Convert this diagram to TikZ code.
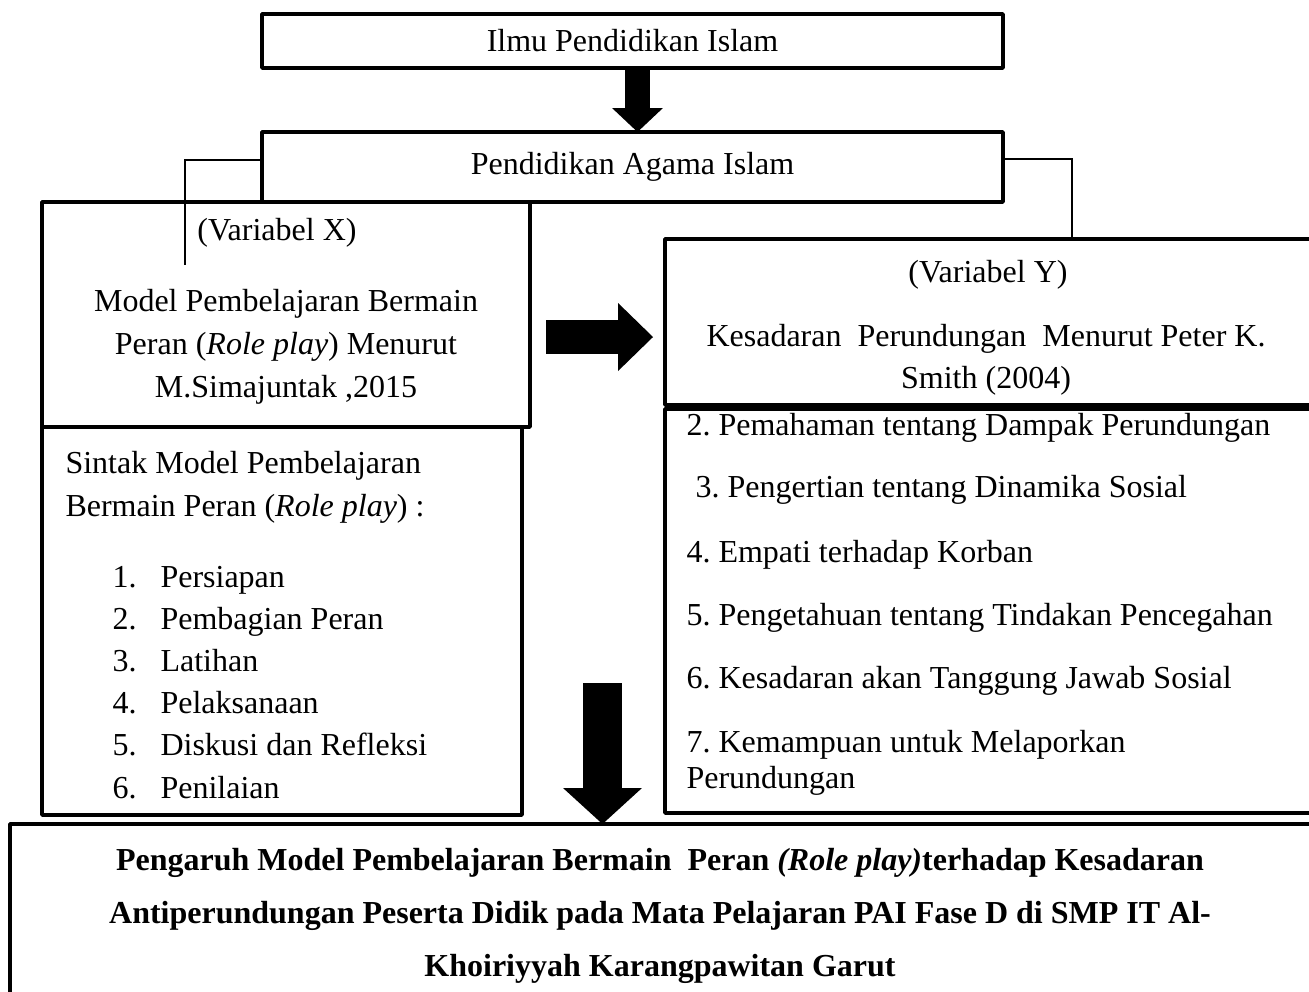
\documentclass[tikz,border=0pt]{standalone}
\usepackage{fontspec}
\setmainfont{Liberation Serif}
\usetikzlibrary{arrows.meta,positioning,calc}
\frenchspacing

\begin{document}
\begin{tikzpicture}[x=0.375pt, y=-0.375pt,
  font=\fontsize{12pt}{16pt}\selectfont,
  box/.style={draw, line width=1.4pt, inner sep=0pt, outer sep=0pt, anchor=north west, line join=round},
  txt/.style={inner sep=0pt},
  link/.style={line width=0.55pt},
  blockarrow/.style n args={3}{line width=#1, -{Triangle[width=#2, length=#3, line width=0pt]}}]

% parameters
\def\pxu{0.375pt}   % one pixel of the sketch

\useasboundingbox (0,0) rectangle (1309,991);
\clip (0,0) rectangle (1309,991);

% --- top boxes ---
\node[box, minimum width={741*\pxu}, minimum height={54*\pxu}] (ilmu) at (262,14) {Ilmu Pendidikan Islam};
\node[box, minimum width={741*\pxu}, minimum height={70*\pxu}] (pai) at (262,132) {Pendidikan Agama Islam};

% --- variabel X ---
\node[box, minimum width={488*\pxu}, minimum height={225*\pxu}] (xhead) at (42,202) {};
\node[box, minimum width={480*\pxu}, minimum height={388*\pxu}] (xbody) at (42,427) {};

% --- variabel Y ---
\node[box, minimum width={700*\pxu}, minimum height={166*\pxu}] (yhead) at (665,239) {};
\node[box, minimum width={700*\pxu}, minimum height={404*\pxu}] (ybody) at (665,409) {};

% --- result ---
\node[box, minimum width={1360*\pxu}, minimum height={220*\pxu}] (result) at (10,824) {};

% thin links from PAI
\coordinate (xlink) at (185,265);
\draw[link] ($(pai.north west)+(0,28)$) -| (xlink);
\draw[link] ($(pai.north east)+(0,27)$) -| ($(yhead.north west)+(407,0)$);

% block arrows
\draw[blockarrow={9.4pt}{19.1pt}{9pt}] ($(ilmu.south)+(5,0)$) -- ($(pai.north)+(5,0)$);
\draw[blockarrow={12.4pt}{25.5pt}{13.1pt}] ($(xhead.north east)+(16,135)$) -- ($(yhead.north west)+(-12,98)$);
\draw[blockarrow={14.6pt}{29.6pt}{13.5pt}] ($(xbody.north east)+(80.5,256)$) -- ($(result.north west)+(592.5,0)$);

% texts of X
\node[txt] (varx) at (277,233) {(Variabel X)};
\node[txt, align=center, font=\fontsize{12pt}{16.1pt}\selectfont] (xtitle) at (286,347)
  {Model Pembelajaran Bermain\\Peran (\textit{Role play}) Menurut\\M.Simajuntak ,2015};
\node[txt, anchor=west, align=left, font=\fontsize{12pt}{16.1pt}\selectfont] (sintak) at (65,487)
  {Sintak Model Pembelajaran\\Bermain Peran (\textit{Role play}) :};
\foreach \t [count=\i] in {Persiapan, Pembagian Peran, Latihan, Pelaksanaan, Diskusi dan Refleksi, Penilaian}{
  \node[txt, anchor=base west] (num\i) at ({112},{587+42.2*(\i-1)}) {\i.};
  \node[txt, anchor=base west] (step\i) at ({160},{587+42.2*(\i-1)}) {\t};
}

% texts of Y
\node[txt] (vary) at (988,275) {(Variabel Y)};
\node[txt, align=center, font=\fontsize{12pt}{15.75pt}\selectfont] (ytitle) at (986,360)
  {Kesadaran\ \ Perundungan\ \ Menurut Peter K.\\Smith (2004)};
\foreach \yy/\xx/\t [count=\i] in {435/686/2. Pemahaman tentang Dampak Perundungan,
    497/695/3. Pengertian tentang Dinamika Sosial,
    562/686/4. Empati terhadap Korban,
    625/686/5. Pengetahuan tentang Tindakan Pencegahan,
    688/686/6. Kesadaran akan Tanggung Jawab Sosial,
    752/686/7. Kemampuan untuk Melaporkan,
    788/686/Perundungan}{
  \node[txt, anchor=base west] (aspect\i) at (\xx,\yy) {\t};
}

% result text
\node[txt, align=center, font=\bfseries\fontsize{12pt}{20pt}\selectfont] (judul) at (660,916)
  {Pengaruh Model Pembelajaran Bermain\ \ Peran \textit{(Role play)}terhadap Kesadaran\\
   Antiperundungan Peserta Didik pada Mata Pelajaran PAI Fase D di SMP IT Al-\\
   Khoiriyyah Karangpawitan Garut};

\end{tikzpicture}
\end{document}
